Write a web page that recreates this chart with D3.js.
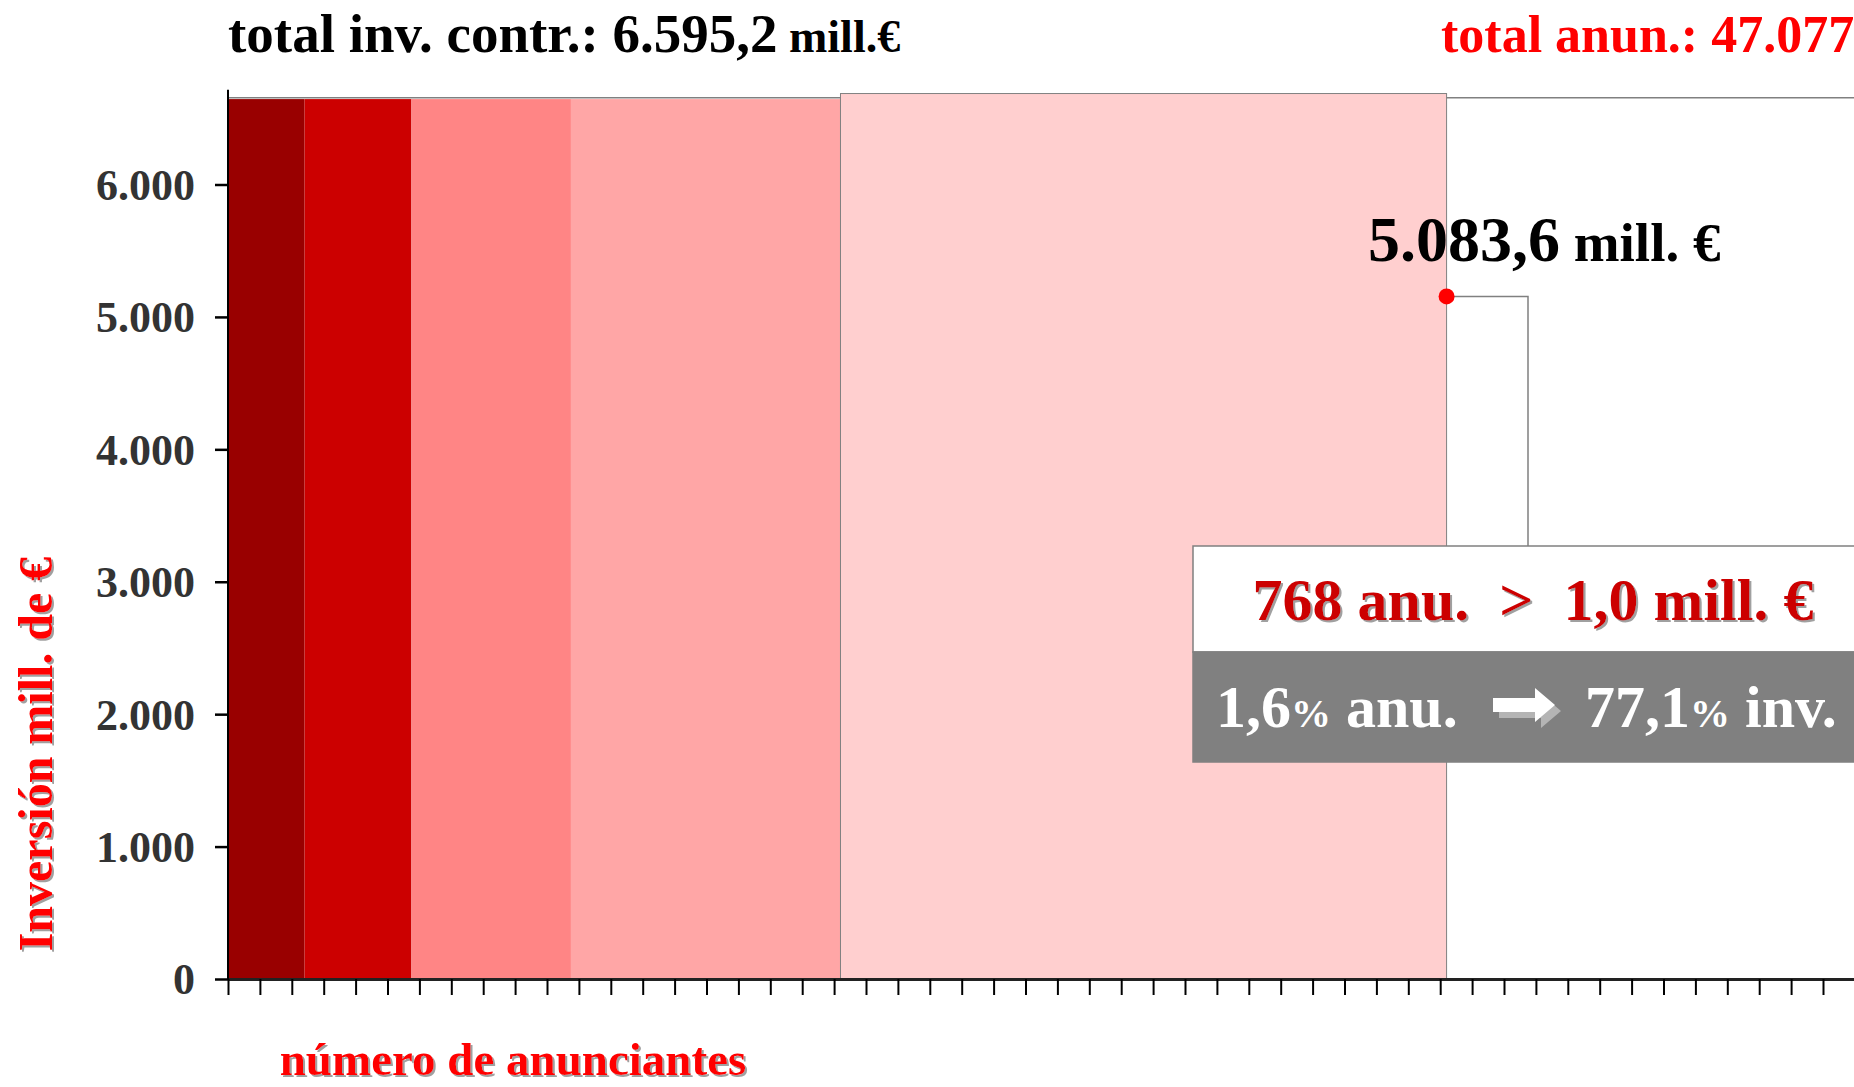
<!DOCTYPE html>
<html lang="es">
<head>
<meta charset="UTF-8">
<title>Inversión por número de anunciantes</title>
<script src="https://d3js.org/d3.v7.min.js"></script>
<style>
  body { margin: 0; background: #fff; overflow: hidden; }
  svg text { font-family: "Liberation Serif", "Times New Roman", serif; font-weight: bold; }
</style>
</head>
<body>
<svg id="chart" width="1854" height="1087"></svg>
<script>
// datos
const groupEnds = [48, 115, 215, 384, 764];          // nº acumulado de anunciantes al final de cada tramo
const groupTops = [6645, 6645, 6645, 6645, 6687];    // altura de cada tramo (mill. €)
const yTicks = [0, 1000, 2000, 3000, 4000, 5000, 6000];
const xTicks = d3.range(0, 1021, 20);
const markerAnun = 764;        // punto rojo
const markerInv = 5155;
const totalInvLabel = ["total inv. contr.: 6.595,2", " mill.€"];
const totalAnunLabel = "total anun.: 47.077";
const markerLabel = ["5.083,6", " mill. €"];
const boxRow1 = "768 anu.  >  1,0 mill. €";

// colores de los tramos
const colors = ["#990000", "#cc0000", "#ff8585", "#ffa6a6", "#ffcfcf"];

const svg = d3.select("#chart");

const defs = svg.append("defs");
defs.append("filter").attr("id", "sh").attr("x", "-5%").attr("y", "-5%").attr("width", "110%").attr("height", "110%")
  .append("feDropShadow").attr("dx", 2).attr("dy", 2).attr("stdDeviation", 0).attr("flood-color", "#a0a0a0");

const x = d3.scaleLinear().domain([0, 1020]).range([228, 228 + 1020 * 1.595]);
const y = d3.scaleLinear().domain([0, 6000]).range([979, 184.5]);
const yTop = 6715;     // hasta donde llega el eje
const plotTop = 6655;  // borde superior del área

// borde superior del área de trazado
svg.append("line")
  .attr("x1", x(0)).attr("x2", 1854)
  .attr("y1", y(plotTop)).attr("y2", y(plotTop))
  .attr("stroke", "#808080").attr("stroke-width", 1.5);

// tramos
const starts = [0].concat(groupEnds.slice(0, -1));
svg.append("g").selectAll("rect")
  .data(groupEnds)
  .join("rect")
  .attr("x", (d, i) => x(starts[i]))
  .attr("width", (d, i) => x(d) - x(starts[i]))
  .attr("y", (d, i) => y(groupTops[i]))
  .attr("height", (d, i) => y(0) - y(groupTops[i]))
  .attr("fill", (d, i) => colors[i])
  .attr("stroke", (d, i) => i === 4 ? "#808080" : "none")
  .attr("stroke-width", 1);

// eje X
const xAxis = d3.axisBottom(x).tickValues(xTicks).tickSize(16).tickSizeOuter(0).tickFormat("");
const gx = svg.append("g").attr("transform", `translate(0,${y(0)})`).call(xAxis);
gx.select(".domain").attr("stroke", "#222").attr("stroke-width", 3);
gx.selectAll(".tick line").attr("stroke", "#000").attr("stroke-width", 2);

// eje Y
const yAxis = d3.axisLeft(y).tickValues(yTicks).tickSize(13).tickSizeOuter(0)
  .tickFormat(d => d3.format(",")(d).replace(/,/g, "."));
const gy = svg.append("g").attr("transform", `translate(${x(0)},0)`).call(yAxis);
gy.select(".domain").attr("d", `M0,${y(0)}V${y(yTop)}`).attr("stroke", "#000").attr("stroke-width", 2);
gy.selectAll(".tick line").attr("stroke", "#000").attr("stroke-width", 2.5);
gy.selectAll(".tick text")
  .attr("x", -33).attr("dy", "0.34em")
  .attr("fill", "#333").style("font-size", "44px")
  .style("font-family", "'Liberation Serif', 'Times New Roman', serif").style("font-weight", "bold");

// títulos superiores
const t1 = svg.append("text").attr("x", 228).attr("y", 52).attr("fill", "#000").style("font-size", "55px");
t1.append("tspan").text(totalInvLabel[0]);
t1.append("tspan").style("font-size", "46px").text(totalInvLabel[1]);

svg.append("text").attr("x", 1441).attr("y", 52).attr("fill", "#ff0000")
  .style("font-size", "52px").text(totalAnunLabel);

// títulos de ejes
svg.append("g").attr("filter", "url(#sh)")
  .append("text")
  .attr("transform", "translate(52,754) rotate(-90)")
  .attr("text-anchor", "middle").attr("fill", "#ff0000").style("font-size", "48px")
  .text("Inversión mill. de €");

svg.append("g").attr("filter", "url(#sh)")
  .append("text")
  .attr("x", 513).attr("y", 1075)
  .attr("text-anchor", "middle").attr("fill", "#ff0000").style("font-size", "47px")
  .text("número de anunciantes");

// línea guía y punto
const mx = x(markerAnun), my = y(markerInv);
svg.append("path")
  .attr("d", `M${mx},${my}H1528V546`)
  .attr("fill", "none").attr("stroke", "#808080").attr("stroke-width", 1.5);
svg.append("circle").attr("cx", mx).attr("cy", my).attr("r", 8).attr("fill", "#ff0000");

const ml = svg.append("text").attr("x", 1368).attr("y", 261).attr("fill", "#000").style("font-size", "64px");
ml.append("tspan").text(markerLabel[0]);
ml.append("tspan").style("font-size", "55px").text(markerLabel[1]);

// recuadro
const box = svg.append("g");
box.append("rect").attr("x", 1193).attr("y", 546).attr("width", 720).attr("height", 106)
  .attr("fill", "#fff").attr("stroke", "#808080").attr("stroke-width", 1.5);
box.append("rect").attr("x", 1193).attr("y", 652).attr("width", 720).attr("height", 110)
  .attr("fill", "#808080").attr("stroke", "#808080").attr("stroke-width", 1.5);

box.append("g").attr("filter", "url(#sh)")
  .append("text").attr("x", 1533).attr("y", 620).attr("text-anchor", "middle")
  .attr("fill", "#cc0000").style("font-size", "60px").style("white-space", "pre")
  .text(boxRow1);

const r2a = box.append("text").attr("x", 1216).attr("y", 727).attr("fill", "#fff").style("font-size", "60px");
r2a.append("tspan").text("1,6");
r2a.append("tspan").style("font-size", "40px").text("%");
r2a.append("tspan").text(" anu.");

const r2b = box.append("text").attr("x", 1585).attr("y", 727).attr("fill", "#fff").style("font-size", "60px");
r2b.append("tspan").text("77,1");
r2b.append("tspan").style("font-size", "40px").text("%");
r2b.append("tspan").text(" inv.");

// flecha
const arrow = [[0, 10], [42, 10], [42, 0], [62, 17], [42, 34], [42, 24], [0, 24]];
const arrowLine = d3.line();
box.append("path").attr("d", arrowLine(arrow) + "Z")
  .attr("transform", "translate(1499,694)").attr("fill", "#b4b4b4");
box.append("path").attr("d", arrowLine(arrow) + "Z")
  .attr("transform", "translate(1493,688)").attr("fill", "#fff");
</script>
</body>
</html>
